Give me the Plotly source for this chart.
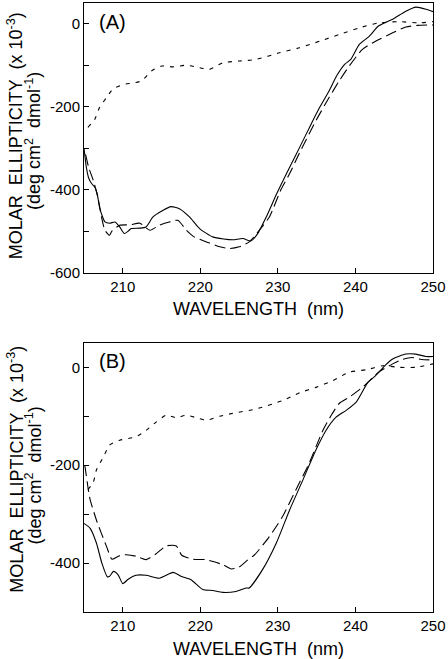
import plotly.graph_objects as go

# ---------------- Panel A data ----------------
a_solid_x = [205.0, 205.3, 205.6, 206.0, 206.4, 206.7, 207.0, 207.4, 207.7, 208.3, 209.0, 209.6, 210.2, 210.7,
             211.1, 212.2, 213.0, 213.9, 215.2, 216.2, 217.3, 218.6, 219.9, 221.6, 223.0, 224.2, 225.5, 226.5,
             227.4, 228.5, 229.8, 231.1, 232.3, 233.6, 234.5, 235.5, 236.6, 237.6, 238.6, 239.4, 240.5, 241.8,
             243.0, 244.8, 246.5, 247.8, 249.1, 250.0]
a_solid_y = [-300, -346, -372, -386, -394, -410, -442, -466, -478, -481, -478, -490, -506, -500,
             -494, -493, -490, -466, -450, -441, -446, -466, -494, -514, -519, -521, -518, -524,
             -506, -466, -412, -362, -317, -268, -234, -198, -162, -125, -98, -86, -50, -30,
             -5, 11, 30, 40, 35, 29]

a_dash_x = [205.2, 205.6, 206.2, 206.8, 207.3, 207.7, 208.3, 208.6, 209.6, 210.9, 212.2, 213.5, 214.7, 216.0,
            217.1, 218.2, 219.2, 221.2, 222.5, 223.8, 225.0, 226.3, 227.6, 228.9, 230.4, 231.5, 232.8, 234.9,
            236.6, 237.9, 239.2, 240.9, 242.6, 244.8, 246.5, 248.0, 250.0]
a_dash_y = [-315, -346, -378, -420, -470, -498, -510, -500, -486, -485, -481, -498, -486, -478,
            -474, -498, -514, -529, -538, -542, -538, -526, -498, -466, -400, -362, -311, -234,
            -178, -138, -102, -62, -42, -22, -8, -4, -3]

a_dot_x = [205.5, 206.4, 207.0, 207.9, 208.7, 210.0, 211.2, 212.4, 213.7, 215.0, 216.5, 218.2, 219.9, 221.2,
           222.9, 225.0, 227.2, 230.2, 232.8, 235.4, 237.9, 240.5, 243.0, 245.6, 248.2, 250.0]
a_dot_y = [-250, -230, -202, -178, -158, -147, -143, -138, -114, -102, -104, -100, -106, -110,
           -94, -90, -86, -70, -58, -42, -26, -10, 2, 5, 2, 5]

# ---------------- Panel B data ----------------
b_solid_x = [205.0, 205.8, 206.6, 207.3, 208.0, 208.3, 208.8, 209.4, 210.0, 210.7, 211.7, 213.0, 214.7, 216.5,
             217.5, 218.8, 220.3, 221.6, 222.9, 224.6, 225.9, 226.3, 228.0, 229.8, 231.5, 233.2, 234.9, 236.2,
             237.5, 238.8, 240.1, 241.6, 242.6, 243.9, 244.8, 246.5, 247.8, 249.1, 250.0]
b_solid_y = [-319, -329, -359, -400, -428, -427, -417, -424, -442, -433, -425, -425, -431, -419,
             -427, -434, -454, -456, -460, -458, -451, -451, -414, -359, -292, -231, -169, -129,
             -102, -88, -71, -31, -17, 5, 17, 27, 27, 22, 22]

b_dash_x = [205.1, 205.6, 205.8, 206.6, 207.9, 208.6, 209.2, 209.7, 210.5, 211.7, 213.0, 214.2, 215.6, 216.9,
            217.6, 219.0, 220.7, 221.9, 223.0, 224.0, 225.0, 226.0, 227.0, 228.9, 230.6, 232.3, 234.0, 235.8,
            237.0, 237.9, 239.2, 240.9, 241.6, 243.0, 244.8, 246.0, 247.3, 248.5, 250.0]
b_dash_y = [-200, -254, -271, -312, -366, -392, -388, -384, -383, -386, -393, -382, -365, -365,
            -384, -392, -393, -398, -404, -412, -408, -395, -383, -346, -305, -251, -197, -129,
            -95, -74, -61, -41, -31, -10, 7, 16, 20, 16, 15]

b_dot_x = [205.5, 206.2, 206.6, 207.6, 208.3, 209.6, 211.7, 213.0, 214.3, 215.6, 216.9, 218.2, 219.9, 220.8,
           222.5, 224.2, 227.2, 230.6, 232.8, 234.9, 237.1, 239.2, 241.4, 243.5, 245.6, 247.8, 250.0]
b_dot_y = [-250, -235, -210, -180, -159, -149, -142, -129, -112, -98, -103, -98, -105, -108,
           -100, -94, -85, -68, -52, -41, -27, -10, -5, 3, 0, 0, 7]

x_ticks = [210, 220, 230, 240, 250]
a_y_ticks = [-600, -400, -200, 0]
a_y_labels = ["-600", "-400", "-200", "0"]
a_y_minor = [-500, -300, -100]
b_y_ticks = [-400, -200, 0]
b_y_labels = ["-400", "-200", "0"]
b_y_minor = [-500, -300, -100]
x_title = "WAVELENGTH  (nm)"
y_title_1 = "MOLAR  ELLIPTICITY  (x 10<sup>-3</sup>)"
y_title_2 = "(deg cm<sup>2</sup>  dmol<sup>-1</sup>)"

FONT = "Arial, Liberation Sans, Helvetica, sans-serif"

fig = go.Figure()

def add_set(xs, ys, dash, xa, ya):
    fig.add_trace(go.Scatter(x=xs, y=ys, mode="lines", xaxis=xa, yaxis=ya,
                             line=dict(color="black", width=1.1, dash=dash, shape="spline", smoothing=0.6),
                             showlegend=False, hoverinfo="skip"))

SOLID, DASH, DOT = "solid", "11px,5px", "4px,6px"
add_set(a_dot_x, a_dot_y, DOT, "x", "y")
add_set(a_dash_x, a_dash_y, DASH, "x", "y")
add_set(a_solid_x, a_solid_y, SOLID, "x", "y")
add_set(b_dot_x, b_dot_y, DOT, "x2", "y2")
add_set(b_dash_x, b_dash_y, DASH, "x2", "y2")
add_set(b_solid_x, b_solid_y, SOLID, "x2", "y2")

axis_common = dict(showline=True, linecolor="black", linewidth=1, mirror=True, showgrid=False,
                   zeroline=False, ticks="inside", ticklen=5, tickwidth=1, tickcolor="black",
                   tickfont=dict(family=FONT, size=15, color="black"))

def minor(vals):
    return dict(tickmode="array", tickvals=vals, ticks="inside", ticklen=5, tickcolor="black", tickwidth=1)

xa = dict(axis_common, range=[205, 250], tickmode="array", tickvals=x_ticks)
fig.update_layout(
    width=448, height=659,
    margin=dict(l=84, r=13, t=2, b=47),
    paper_bgcolor="white", plot_bgcolor="white",
    font=dict(family=FONT, color="black"),
    xaxis=dict(xa, domain=[0, 1], anchor="y"),
    yaxis=dict(axis_common, domain=[0.5574, 1], anchor="x", range=[-600, 50], tickmode="array",
               tickvals=a_y_ticks, ticktext=a_y_labels, minor=minor(a_y_minor)),
    xaxis2=dict(xa, domain=[0, 1], anchor="y2"),
    yaxis2=dict(axis_common, domain=[0, 0.442], anchor="x2", range=[-500, 50], tickmode="array",
                tickvals=b_y_ticks, ticktext=b_y_labels, minor=minor(b_y_minor)),
)

H = 610.0
def py(p):
    return (612 - p) / H

anns = []
for (lab, lab_y, xt_y, l1_y, l2_y) in [("(A)", 21.5, 309, 135, 140), ("(B)", 361, 649, 469, 475)]:
    anns.append(dict(text=lab, xref="paper", yref="paper", x=(97 - 84) / 351, y=py(lab_y),
                     xanchor="left", yanchor="middle", showarrow=False,
                     font=dict(family=FONT, size=20, color="black")))
    anns.append(dict(text=x_title, xref="paper", yref="paper", x=(260 - 84) / 351, y=py(xt_y),
                     xanchor="center", yanchor="middle", showarrow=False,
                     font=dict(family=FONT, size=18, color="black")))
    anns.append(dict(text=y_title_1, xref="paper", yref="paper", x=(15 - 84) / 351, y=py(l1_y),
                     xanchor="center", yanchor="middle", textangle=-90, showarrow=False,
                     font=dict(family=FONT, size=18, color="black")))
    anns.append(dict(text=y_title_2, xref="paper", yref="paper", x=(33 - 84) / 351, y=py(l2_y),
                     xanchor="center", yanchor="middle", textangle=-90, showarrow=False,
                     font=dict(family=FONT, size=18, color="black")))
fig.update_layout(annotations=anns)

fig.write_html("out.html", config={"displayModeBar": False},
               post_script="document.body.style.margin='0';document.body.style.padding='0';")
